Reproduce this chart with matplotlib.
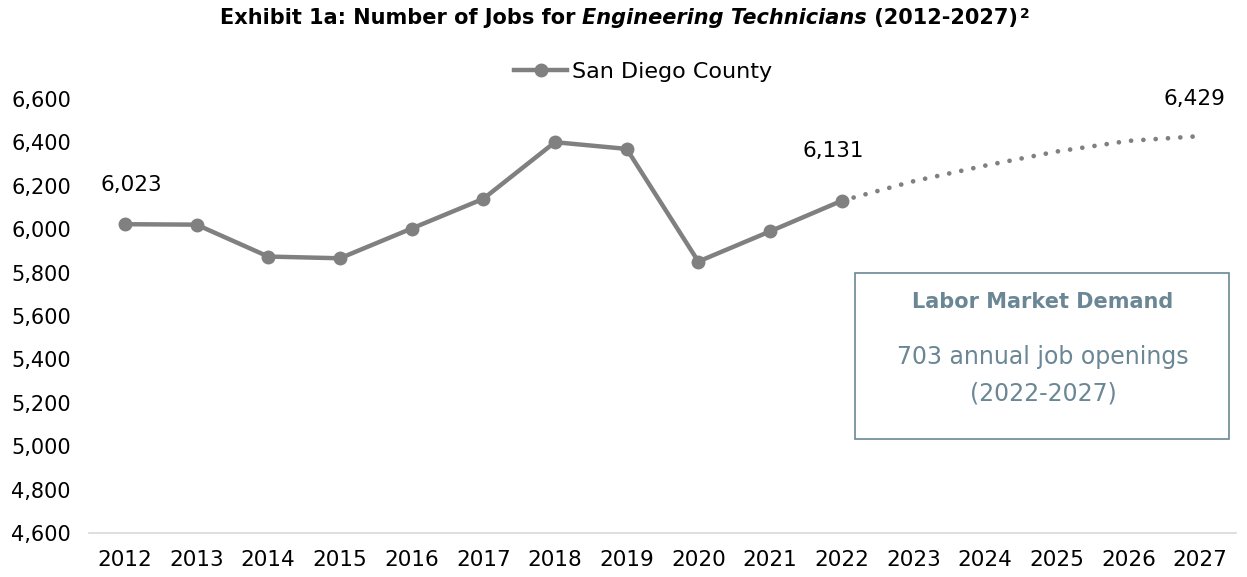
import matplotlib.pyplot as plt
from matplotlib.patches import Rectangle
from matplotlib.ticker import FuncFormatter

# data
years = list(range(2012, 2028))
actual_years = years[:11]
actual_jobs = [6023, 6021, 5874, 5866, 6003, 6140, 6401, 6370, 5851, 5990, 6131]
proj_years = years[10:]
proj_jobs = [6131, 6221, 6293, 6358, 6407, 6429]
label_years = [2012, 2022, 2027]
label_values = [6023, 6131, 6429]

y_ticks = list(range(4600, 6601, 200))

GREY = "#808080"
BOX = "#6B8795"
FONT = "DejaVu Sans"


def main():
    plt.rcParams["font.family"] = [FONT]
    fig = plt.figure(figsize=(12.47, 5.77), dpi=100)
    ax = fig.add_axes([89 / 1247, 1 - 533 / 577, (1236 - 89) / 1247, (533 - 99) / 577])

    line, = ax.plot(actual_years, actual_jobs, color=GREY, lw=3.2,
                    marker="o", ms=9, label="San Diego County")
    ax.plot(proj_years, proj_jobs, color=GREY, lw=3.4,
            linestyle=(0, (0.01, 2.6)), dash_capstyle="round")

    # data labels, nudged like the original
    offsets = [(5, 28), (-6, 36), (-4, 27)]
    for yr, val, off in zip(label_years, label_values, offsets):
        ax.annotate(f"{val:,}", (yr, val), xytext=off, textcoords="offset points",
                    ha="center", va="center", fontsize=15.5, color="black")

    ax.set_xlim(2011.5, 2027.5)
    ax.set_ylim(4600, 6600)
    ax.set_xticks(years)
    ax.set_xticklabels([str(y) for y in years])
    ax.set_yticks(y_ticks)
    ax.yaxis.set_major_formatter(FuncFormatter(lambda v, p: f"{int(v):,}"))
    ax.tick_params(axis="both", length=0, labelsize=15.5, colors="black")
    ax.tick_params(axis="y", labelsize=15, pad=13)
    ax.tick_params(axis="x", pad=12)
    for side in ["top", "right", "left"]:
        ax.spines[side].set_visible(False)
    ax.spines["bottom"].set_color("#D9D9D9")
    ax.spines["bottom"].set_linewidth(1.2)

    fig.legend(handles=[line], loc="center", bbox_to_anchor=(643 / 1247, 1 - 72 / 577),
               frameon=False, fontsize=16, handlelength=2.4, handletextpad=0.2)

    # labor market box
    fig.patches.append(Rectangle((855 / 1247, 1 - 439 / 577), 374 / 1247, 166 / 577,
                                 transform=fig.transFigure, fill=False,
                                 edgecolor=BOX, lw=1.2))
    fig.text(1043 / 1247, 1 - 302 / 577, "Labor Market Demand", ha="center",
             va="center", fontsize=15, weight="bold", color=BOX)
    fig.text(1043 / 1247, 1 - 357 / 577, "703 annual job openings", ha="center",
             va="center", fontsize=17, color=BOX)
    fig.text(1043 / 1247, 1 - 393 / 577, "(2022-2027)", ha="center",
             va="center", fontsize=17, color=BOX)

    # title with mixed styles
    parts = [
        ("Exhibit 1a: Number of Jobs for ", dict(weight="bold", size=15)),
        ("Engineering Technicians", dict(weight="bold", style="italic", size=15)),
        (" (2012-2027)", dict(weight="bold", size=15)),
        ("2", dict(weight="bold", size=10)),
    ]
    y_base = 1 - 24 / 577
    arts = []
    for text, kw in parts:
        arts.append(fig.text(0, y_base, text, va="baseline", ha="left", **kw))
    renderer = fig.canvas.get_renderer()
    widths = [a.get_window_extent(renderer).width for a in arts]
    x = (1247 - sum(widths)) / 2
    for a, w in zip(arts, widths):
        a.set_x(x / 1247)
        x += w
    arts[-1].set_x(arts[-1].get_position()[0] + 2 / 1247)
    arts[-1].set_y(y_base + 6 / 577)

    fig.savefig("out.png", dpi=100)


if __name__ == "__main__":
    main()
